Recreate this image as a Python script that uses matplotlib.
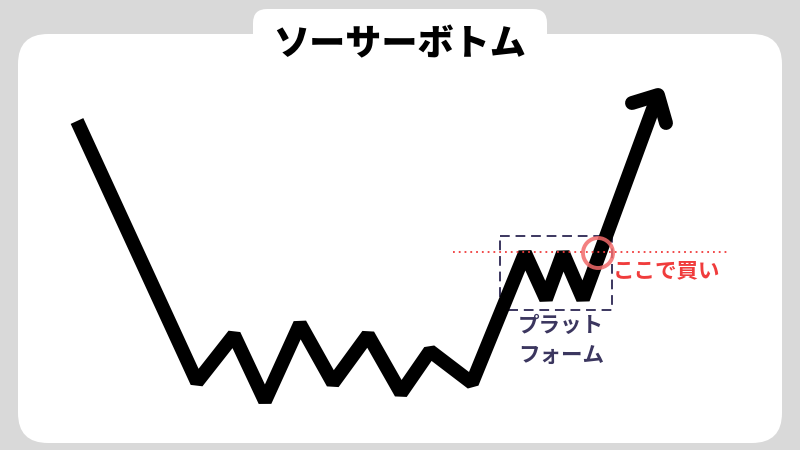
import matplotlib.pyplot as plt
from matplotlib.patches import FancyBboxPatch, Rectangle, Circle

plt.rcParams['font.family'] = ['Noto Sans CJK JP', 'DejaVu Sans']

# price path (pixel coords, y down)
path_x = [77, 197, 234, 265, 300, 333, 368, 401, 430, 472, 525, 546, 563, 583, 658]
path_y = [121, 382, 335, 401, 324, 383, 335, 393, 351, 383, 253, 299, 253, 299, 95]

# arrow head barbs
head_x = [632, 658, 666]
head_y = [103, 95, 123]

title = "ソーサーボトム"
buy_label = "ここで買い"
platform_label = ["プラット", "フォーム"]

bg = "#d9d9d9"
navy = "#3b365f"
red = "#f03c3c"

fig = plt.figure(figsize=(8, 4.5), dpi=100)
fig.patch.set_facecolor(bg)
ax = fig.add_axes([0, 0, 1, 1])
ax.set_xlim(0, 800)
ax.set_ylim(450, 0)
ax.axis('off')

# white panel and title tab
ax.add_patch(FancyBboxPatch((18 + 30, 34 + 30), 764 - 60, 409 - 60,
                            boxstyle="round,pad=30", fc="white", ec="none"))
ax.add_patch(FancyBboxPatch((253 + 14, 9 + 14), 294 - 28, 60 - 28,
                            boxstyle="round,pad=14", fc="white", ec="none"))
ax.text(400, 44, title, fontsize=26, fontweight='heavy', ha='center', va='center', color='black')

# platform box
ax.add_patch(Rectangle((500, 236), 112, 74, fill=False, ec=navy, lw=1.4,
                       ls=(0, (5, 3))))

# main line
ax.plot(path_x, path_y, color='black', lw=10, solid_joinstyle='bevel',
        solid_capstyle='butt')
ax.plot(head_x, head_y, color='black', lw=10, solid_joinstyle='round',
        solid_capstyle='round')

# buy line and marker on top
ax.plot([453, 730], [252, 252], color=red, lw=1.3, ls=(0, (1, 2.2)), zorder=5)
ax.add_patch(Circle((598, 253), 15, fill=False, ec="#f26a6a", lw=2.8, alpha=0.85, zorder=6))

ax.text(613, 271, buy_label, fontsize=15.5, fontweight='bold', color=red,
        ha='left', va='center')
ax.text(561, 326, platform_label[0], fontsize=15.5, fontweight='bold', color=navy,
        ha='center', va='center')
ax.text(561, 355, platform_label[1], fontsize=15.5, fontweight='bold', color=navy,
        ha='center', va='center')

fig.savefig("out.png", dpi=100, facecolor=bg)
